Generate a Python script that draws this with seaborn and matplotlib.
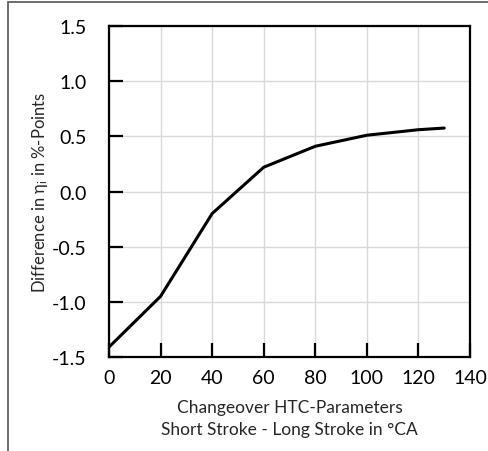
import matplotlib.pyplot as plt
import pandas as pd
import seaborn as sns
from matplotlib.patches import Rectangle

changeover_deg = [0, 20, 40, 60, 80, 100, 120, 130]
eta_diff = [-1.41, -0.95, -0.20, 0.22, 0.41, 0.51, 0.56, 0.575]

x_ticks = [0, 20, 40, 60, 80, 100, 120, 140]
y_ticks = [-1.5, -1.0, -0.5, 0.0, 0.5, 1.0, 1.5]

sns.set_theme(style="white")
plt.rcParams['font.family'] = ['Lato', 'DejaVu Sans']
plt.rcParams['mathtext.fontset'] = 'custom'
plt.rcParams['mathtext.rm'] = 'Lato'
plt.rcParams['mathtext.it'] = 'Lato:italic'

df = pd.DataFrame({"deg": changeover_deg, "eta": eta_diff})

fig = plt.figure(figsize=(4.89, 4.52), dpi=100)
ax = fig.add_axes([109 / 489, 1 - 358 / 452, 361 / 489, 331 / 452])

sns.lineplot(data=df, x="deg", y="eta", ax=ax, color="black", linewidth=2.2)

ax.set_xlim(0, 140)
ax.set_ylim(-1.5, 1.5)
ax.set_xticks(x_ticks)
ax.set_yticks(y_ticks)
ax.set_yticklabels([f"{v:.1f}" for v in y_ticks])
ax.grid(True, color="#d9d9d9", linewidth=1)
ax.set_axisbelow(True)
for s in ax.spines.values():
    s.set_color("black")
    s.set_linewidth(1.6)
ax.tick_params(direction="in", length=10, width=1.6, labelsize=14, colors="black",
               bottom=True, left=True)
ax.tick_params(axis="y", pad=16)
ax.tick_params(axis="x", pad=9)

ax.set_xlabel("Changeover HTC-Parameters\nShort Stroke - Long Stroke in °CA",
              fontsize=12.5, linespacing=1.5)
ax.xaxis.set_label_coords(0.5, -(407 + 12 - 358) / 331, transform=ax.transAxes)
ax.xaxis.label.set_va("center")
ax.set_ylabel("Difference in η$_{\\mathrm{i}}$ in %-Points", fontsize=12)
ax.yaxis.set_label_coords((40 - 109) / 361, 0.5)
ax.yaxis.label.set_va("center")

fig.patches.append(Rectangle((8 / 489, -0.05), 1.1, 1 - 3 / 452 + 0.05,
                             transform=fig.transFigure, fill=False,
                             edgecolor="#555555", linewidth=1.2))

fig.savefig("out.png", dpi=100)
